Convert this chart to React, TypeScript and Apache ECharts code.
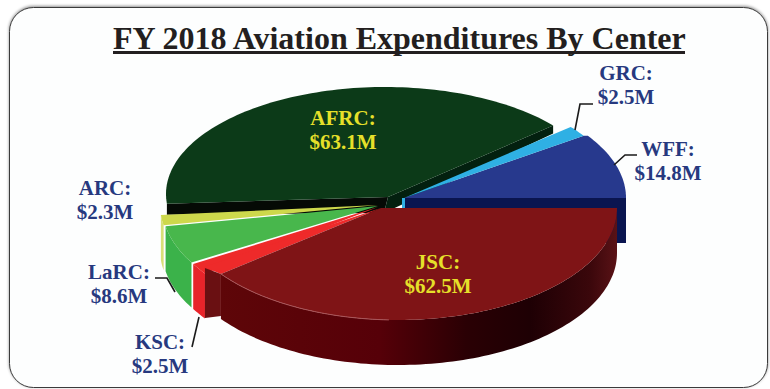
import React, { useEffect, useRef } from "react";
import * as echarts from "echarts";

// Pie order, clockwise from the 3 o'clock position.
const centers = ["JSC", "KSC", "LaRC", "ARC", "AFRC", "GRC", "WFF"];
const expenditures = [62.5, 2.5, 8.6, 2.3, 63.1, 2.5, 14.8];
// Back slices are painted first so the front ones overlap them.
const paintOrder = ["AFRC", "WFF", "GRC", "ARC", "LaRC", "KSC", "JSC"];
const titleText = "FY 2018 Aviation Expenditures By Center";

const WIDTH = 770;
const HEIGHT = 389;
const DEPTH = 45;
const TOTAL = expenditures.reduce((a, b) => a + b, 0);

type SliceLook = {
  cx: number; cy: number; rx: number; ry: number;
  top: string; wall?: any; apexX?: number; apexY?: number;
};

// Every exploded slice has its own ellipse centre in the tilted view.
const looks: Record<string, SliceLook> = {
  JSC: {
    cx: 398, cy: 208, rx: 219, ry: 112, top: "#7f1416", apexX: 381,
    wall: new echarts.graphic.LinearGradient(0, 0, 1, 0, [
      { offset: 0, color: "#5e0608" },
      { offset: 0.4, color: "#560008" },
      { offset: 0.62, color: "#2a0004" },
      { offset: 0.78, color: "#1e0004" },
      { offset: 0.93, color: "#3a070b" },
      { offset: 1, color: "#5a1216" },
    ]),
  },
  KSC: { cx: 378, cy: 207, rx: 214, ry: 113, top: "#ee2a2a", wall: "#e8242a" },
  LaRC: { cx: 378, cy: 206, rx: 216, ry: 112, top: "#48b74c", wall: "#3bb24a" },
  ARC: { cx: 378, cy: 205, rx: 218, ry: 112, top: "#cdd84c", wall: "#d8df78" },
  AFRC: { cx: 385, cy: 194, rx: 219, ry: 107, top: "#0c3a18", apexX: 388, apexY: 197 },
  GRC: { cx: 404, cy: 198, rx: 217, ry: 111, top: "#2fb0e4" },
  WFF: { cx: 404, cy: 198, rx: 222, ry: 111, top: "#27398d" },
};

// Angular span (radians) of each centre's slice.
const spans: Record<string, [number, number]> = {};
let running = 0;
centers.forEach((name, i) => {
  const start = (running / TOTAL) * Math.PI * 2;
  running += expenditures[i];
  spans[name] = [start, (running / TOTAL) * Math.PI * 2];
});

const rimPoint = (l: SliceLook, a: number, drop = 0): number[] => [
  l.cx + l.rx * Math.cos(a),
  l.cy + l.ry * Math.sin(a) + drop,
];

const rimArc = (l: SliceLook, a0: number, a1: number, drop = 0): number[][] => {
  const steps = Math.max(4, Math.ceil(Math.abs(a1 - a0) * 40));
  const pts: number[][] = [];
  for (let i = 0; i <= steps; i++) {
    pts.push(rimPoint(l, a0 + ((a1 - a0) * i) / steps, drop));
  }
  return pts;
};

const poly = (points: number[][], fill: any) => ({
  type: "polygon",
  shape: { points },
  style: { fill },
});

function sliceParts(name: string): any[] {
  const l = looks[name];
  const [a0, a1] = spans[name];
  const apex = [l.apexX ?? l.cx, l.apexY ?? l.cy];
  const parts: any[] = [];

  if (name === "AFRC") {
    // Thin dark cut walls along both straight edges.
    const left = rimPoint(l, a0);
    const right = rimPoint(l, a1);
    parts.push(
      poly([left, apex, [apex[0] - 4, apex[1] + 16], [left[0], left[1] + 11]], "#050a05"),
      poly([apex, right, [right[0], right[1] + 8], [apex[0] - 4, apex[1] + 16]], "#03200f"),
    );
  }
  if (name === "WFF") {
    // Horizontal cut wall, mostly hidden behind JSC.
    const rim = rimPoint(l, 0);
    parts.push(poly([apex, rim, [rim[0], rim[1] + DEPTH], [apex[0], apex[1] + DEPTH]], "#0a1550"));
  }
  if (name === "GRC") {
    parts.push(poly([[apex[0] - 2, apex[1]], [apex[0] + 1, apex[1]], [apex[0] + 1, apex[1] + 10], [apex[0] - 2, apex[1] + 10]], l.top));
  }
  if (name === "JSC") {
    const p = rimPoint(l, a1);
    // KSC red closes the wedge up to JSC's straight edge.
    parts.push(poly([apex, [p[0] - 17, p[1] - 7], p], looks.KSC.top));
    // Darker sliver beside the KSC wall.
    parts.push(poly([[p[0] - 16, p[1] - 6], p, [p[0], p[1] + 42], [p[0] - 16, p[1] + 44]], "#6a1012"));
  }
  if (l.wall) {
    const top = rimArc(l, a0, a1);
    const bottom = rimArc(l, a1, a0, DEPTH);
    parts.push(poly([...top, ...bottom], l.wall));
  }
  // WFF's first rim point meets the end of the GRC rim so the two share an edge.
  const lead = name === "WFF" ? [rimPoint(looks.GRC, spans.GRC[1])] : [];
  parts.push(poly([apex, ...lead, ...rimArc(l, a0, a1)], l.top));
  if (name === "JSC") {
    // Soft highlight along the front rim on the left.
    parts.push({
      type: "polyline",
      shape: { points: rimArc(l, a1 - 0.9, a1) },
      style: { fill: "none", stroke: "#a9565a", lineWidth: 1 },
    });
  }
  return parts;
}

const valueOf = (name: string) => expenditures[centers.indexOf(name)];
const labelText = (name: string) => `${name}:\n$${valueOf(name).toFixed(1)}M`;

const NAVY = "#27397f";
const YELLOW = "#e6e02a";
const labelSpots: Record<string, { x: number; y: number; fill: string }> = {
  GRC: { x: 626, y: 85, fill: NAVY },
  WFF: { x: 668, y: 161, fill: NAVY },
  AFRC: { x: 343, y: 130, fill: YELLOW },
  JSC: { x: 438, y: 274, fill: YELLOW },
  ARC: { x: 105, y: 200, fill: NAVY },
  LaRC: { x: 119, y: 284, fill: NAVY },
  KSC: { x: 160, y: 354, fill: NAVY },
};

const leaders: number[][][] = [
  [[593, 104], [580, 104], [575, 130]],
  [[637, 155], [625, 155], [614, 165]],
  [[155, 278], [167, 278], [175, 292]],
  [[192, 347], [199, 317]],
];

export default function App() {
  const ref = useRef<HTMLDivElement>(null);

  useEffect(() => {
    const chart = echarts.init(ref.current!, undefined, { renderer: "svg" });
    chart.setOption({
      animation: false,
      backgroundColor: "#ffffff",
      title: {
        text: titleText,
        left: 113,
        top: 22,
        padding: 0,
        textStyle: {
          fontFamily: "Liberation Serif",
          fontWeight: "bold",
          fontSize: 32,
          color: "#231f20",
        },
      },
      graphic: [
        {
          type: "rect",
          z: 0,
          shape: { x: 9.5, y: 7.5, width: 758, height: 380, r: 24 },
          style: {
            fill: "#fdfefe",
            stroke: "#3a3a3a",
            lineWidth: 1,
            shadowBlur: 3,
            shadowColor: "rgba(0,0,0,0.45)",
            shadowOffsetY: -1,
          },
        },
        {
          type: "line",
          z: 5,
          shape: { x1: 113, y1: 52.5, x2: 685, y2: 52.5 },
          style: { stroke: "#231f20", lineWidth: 3 },
        },
        ...leaders.map((points) => ({
          type: "polyline",
          z: 5,
          shape: { points },
          style: { fill: "none", stroke: "#1a1a1a", lineWidth: 1.6 },
        })),
        ...paintOrder.map((name) => ({
          type: "text",
          z: 10,
          x: labelSpots[name].x,
          y: labelSpots[name].y,
          style: {
            text: labelText(name),
            fill: labelSpots[name].fill,
            font: 'bold 21px "Liberation Serif"',
            lineHeight: 24,
            align: "center",
            verticalAlign: "middle",
          },
        })),
      ],
      series: [
        {
          type: "custom",
          coordinateSystem: "none",
          z: 3,
          silent: true,
          data: paintOrder.map((name) => ({ name, value: valueOf(name) })),
          renderItem: (params: any) => ({
            type: "group",
            children: sliceParts(paintOrder[params.dataIndex]),
          }),
        },
      ],
    });
    return () => chart.dispose();
  }, []);

  return (
    <div
      ref={ref}
      style={{ position: "fixed", left: 0, top: 0, width: WIDTH, height: HEIGHT }}
    />
  );
}
